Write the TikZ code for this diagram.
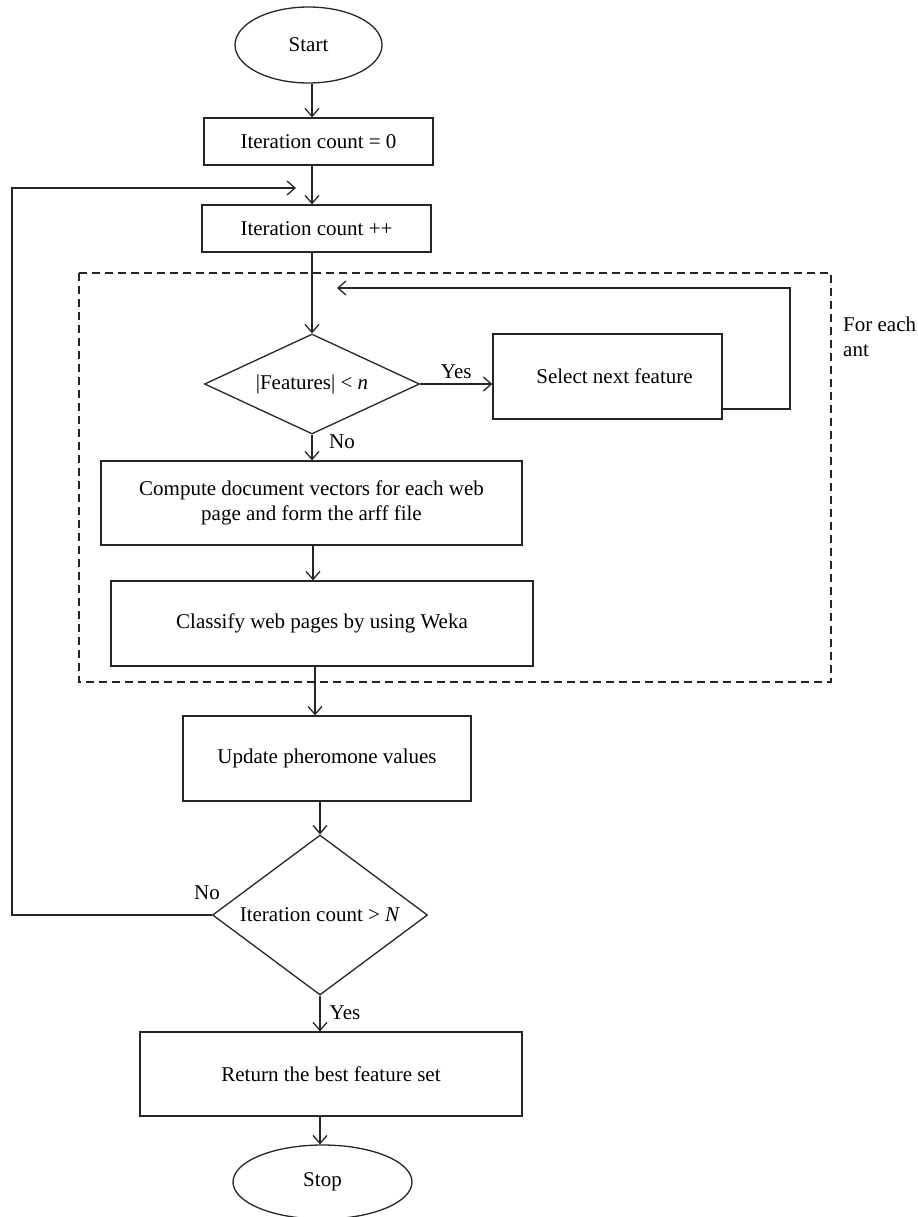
\documentclass[tikz,border=0pt]{standalone}
\usepackage{fontspec}
\setmainfont{Liberation Serif}
\usetikzlibrary{shapes.geometric,arrows.meta,calc}
\begin{document}
\begin{tikzpicture}[x=1bp,y=-1bp,
  every node/.style={font=\fontsize{21bp}{25bp}\selectfont, inner sep=0pt},
  line/.style={line width=1.3bp, draw=black!85},
  arr/.style={line, -{Straight Barb[length=8bp,width=14bp,line width=1.3bp]}},
  proc/.style={rectangle, line, align=center},
  term/.style={ellipse, line},
  dec/.style={diamond, line},
  lbl/.style={font=\fontsize{21bp}{25bp}\selectfont}
]
\useasboundingbox (0,0) rectangle (918,1217);

% dashed region
\draw[line, dash pattern=on 8bp off 5bp] (79,273) rectangle (831,682);
\node[lbl, anchor=west, align=left] (forant) at (843,337) {For each\\ant};

% nodes
\node[term, minimum width=147bp, minimum height=76bp] (start) at (308.5,45) {Start};
\node[proc, minimum width=229bp, minimum height=47bp] (box1) at (318.5,141.5) {Iteration count = 0};
\node[proc, minimum width=229bp, minimum height=47bp] (box2) at (316.5,228.5) {Iteration count ++};
\node[dec, minimum width=215bp, minimum height=100bp, aspect=2.15] (d1) at (312,384) {|Features| < \textit{n}};
\node[proc, minimum width=229bp, minimum height=85bp] (sel) at (607.5,376.5) {\hspace*{14bp}Select next feature};
\node[proc, minimum width=421bp, minimum height=84bp] (comp) at (311.5,503) {Compute document vectors for each web\\page and form the arff file};
\node[proc, minimum width=422bp, minimum height=85bp] (cls) at (322,623.5) {Classify web pages by using Weka};
\node[proc, minimum width=288bp, minimum height=85bp] (upd) at (327,758.5) {Update pheromone values};
\node[dec, minimum width=215bp, minimum height=160bp, aspect=1.34] (d2) at (320,915) {Iteration count > \textit{N}};
\node[proc, minimum width=382bp, minimum height=84bp] (ret) at (331,1074) {Return the best feature set};
\node[term, minimum width=179bp, minimum height=74bp] (stop) at (322.5,1182) {Stop};

% column coordinates
\coordinate (cA) at (312,0);
\coordinate (cB) at (313,0);
\coordinate (cC) at (315,0);
\coordinate (cD) at (320,0);
\coordinate (loopL) at (12,188);
\coordinate (loopEnd) at (296,188);
\coordinate (selR) at (790,288);
\coordinate (selEnd) at (337,288);
\coordinate (selOut) at (722,409);

% connectors
\draw[arr] (start.south -| cA) -- (box1.north -| cA);
\draw[arr] (box1.south -| cA) -- (box2.north -| cA);
\draw[arr] (box2.south -| cA) -- (d1.north);
\draw[arr] (d1.east) -- (d1.east -| sel.west) node[lbl, midway, above=5bp] (yes1) {Yes};
\draw[arr] (selOut) -| (selR) -- (selEnd);
\draw[arr] (d1.south) -- (comp.north -| d1.south);
\node[lbl] (no1) at (342,442) {No};
\draw[arr] (comp.south -| cB) -- (cls.north -| cB);
\draw[arr] (cls.south -| cC) -- (upd.north -| cC);
\draw[arr] (upd.south -| cD) -- (d2.north);
\draw[arr] (d2.south) -- (ret.north -| d2.south);
\node[lbl] (yes2) at (345,1013) {Yes};
\draw[arr] (ret.south -| cD) -- (stop.north -| cD);
\draw[arr] (d2.west) -| (loopL) -- (loopEnd);
\node[lbl] (no2) at (207,893) {No};
\end{tikzpicture}
\end{document}
